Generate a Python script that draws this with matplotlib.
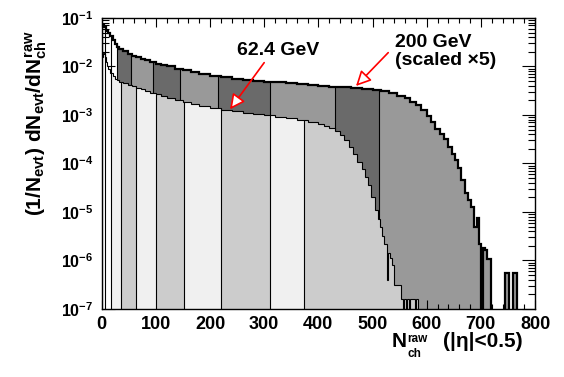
import numpy as np
import matplotlib
matplotlib.use('Agg')
import matplotlib.pyplot as plt
from matplotlib.ticker import MultipleLocator, LogLocator, NullFormatter

plt.rcParams['font.family'] = ['Liberation Sans', 'DejaVu Sans']
plt.rcParams['font.weight'] = 'bold'
plt.rcParams['mathtext.fontset'] = 'custom'
plt.rcParams['mathtext.rm'] = 'Liberation Sans:bold'
plt.rcParams['mathtext.it'] = 'Liberation Sans:bold'
plt.rcParams['mathtext.bf'] = 'Liberation Sans:bold'
plt.rcParams['mathtext.sf'] = 'Liberation Sans:bold'

# 200 GeV (scaled x5): bin edges and log10 of (1/Nevt) dN/dNch, nan = empty bin
edges_200 = [0, 4, 8, 12, 16, 20, 24, 28, 32, 40, 48, 56, 64, 72, 80, 90, 100, 110, 120,
             135, 150, 165, 180, 200, 220, 240, 260, 280, 300, 320, 340, 360, 380, 400,
             420, 440, 460, 480, 500, 515, 530, 545, 560, 570, 580, 590, 600, 608, 616,
             624, 632, 640, 646, 652, 658, 664, 670, 676, 682, 688, 692, 696, 700, 704,
             708, 712, 718, 744, 752, 760, 766, 800]
logy_200 = [-1.15, -1.18, -1.26, -1.31, -1.38, -1.45, -1.53, -1.59, -1.64, -1.69, -1.74,
            -1.78, -1.81, -1.84, -1.87, -1.91, -1.94, -1.97, -2.00, -2.05, -2.08, -2.11,
            -2.15, -2.19, -2.22, -2.25, -2.27, -2.29, -2.31, -2.33, -2.35, -2.36, -2.38,
            -2.40, -2.42, -2.43, -2.45, -2.46, -2.48, -2.50, -2.55, -2.60, -2.66, -2.73,
            -2.80, -2.90, -3.02, -3.15, -3.28, -3.40, -3.50, -3.65, -3.80, -3.92, -4.10,
            -4.35, -4.60, -4.75, -4.90, -5.30, -5.13, -5.65, np.nan, -5.75, -5.78, -5.96,
            np.nan, -6.25, np.nan, -6.25, np.nan]

# 62.4 GeV
edges_62 = [0, 2, 4, 6, 8, 10, 12, 16, 20, 24, 28, 32, 40, 48, 56, 64, 72, 80, 90, 100,
            110, 120, 135, 150, 165, 180, 200, 220, 240, 260, 280, 300, 320, 340, 360,
            380, 400, 410, 420, 430, 440, 448, 456, 464, 472, 480, 486, 492, 498, 504,
            510, 514, 518, 522, 526, 528, 532, 536, 540, 552, 556, 558, 562, 564, 568,
            570, 578, 580, 584, 800]
logy_62 = [-1.80, -1.72, -1.74, -1.80, -1.90, -1.98, -2.05, -2.13, -2.20, -2.25, -2.28,
           -2.31, -2.35, -2.38, -2.41, -2.44, -2.47, -2.50, -2.54, -2.57, -2.61, -2.65,
           -2.70, -2.74, -2.77, -2.81, -2.85, -2.89, -2.92, -2.95, -2.98, -3.01, -3.04,
           -3.07, -3.10, -3.14, -3.18, -3.22, -3.27, -3.33, -3.41, -3.52, -3.65, -3.80,
           -3.97, -4.12, -4.27, -4.45, -4.70, -4.96, -5.15, -5.30, -5.50, -5.65, -6.40,
           -5.85, -5.95, -6.10, -6.51, -6.80, np.nan, -6.80, np.nan, -6.80, np.nan,
           -6.80, np.nan, -6.80, np.nan]

# centrality class boundaries and fill colours
bounds_200 = [0, 6, 17, 28, 55, 95, 145, 215, 310, 430, 512, 800]
colors_200 = ['white', 'white', 'white', '#6a6a6a', '#999999', '#6a6a6a', '#999999',
              '#6a6a6a', '#999999', '#6a6a6a', '#999999']
bounds_62 = [0, 6, 17, 36, 64, 101, 152, 220, 311, 373, 800]
colors_62 = ['white', 'white', '#f0f0f0', '#cccccc', '#f0f0f0', '#cccccc', '#f0f0f0',
             '#cccccc', '#f0f0f0', '#cccccc']

y_ticks = [1e-7, 1e-6, 1e-5, 1e-4, 1e-3, 1e-2, 1e-1]
y_labels = [r'$10^{-7}$', r'$10^{-6}$', r'$10^{-5}$', r'$10^{-4}$', r'$10^{-3}$',
            r'$10^{-2}$', r'$10^{-1}$']
x_ticks = [0, 100, 200, 300, 400, 500, 600, 700, 800]

FLOOR = 1e-12
W, H = 564, 377


def to_vals(logy):
    a = np.array(logy, dtype=float)
    return np.where(np.isnan(a), FLOOR, 10.0 ** np.nan_to_num(a, nan=-12))


def value_at(edges, vals, x):
    k = np.searchsorted(edges, x, side='right') - 1
    k = min(max(k, 0), len(vals) - 1)
    return vals[k]


def draw_hist(ax, edges, vals, bounds, colors, lw, z):
    edges = np.asarray(edges, dtype=float)
    for a, b, c in zip(bounds[:-1], bounds[1:], colors):
        inner = [e for e in edges if a < e < b]
        xs = np.array([a] + inner + [b], dtype=float)
        ys = [value_at(edges, vals, x) for x in xs[:-1]]
        ys.append(ys[-1])
        ax.fill_between(xs, ys, FLOOR, step='post', color=c, lw=0, zorder=z)
    for b in bounds[1:-1]:
        top = max(value_at(edges, vals, b - 1e-6), value_at(edges, vals, b))
        ax.vlines(b, FLOOR, top, colors='k', lw=0.8, zorder=z + 0.1)
    ax.stairs(vals, edges, baseline=FLOOR, color='k', lw=lw, zorder=z + 0.2)


def ftext(px, py, s, **kw):
    # place text in figure pixels measured from the top-left corner
    fig.text(px / W, 1 - py / H, s, **kw)


fig = plt.figure(figsize=(5.64, 3.77), dpi=100)
ax = fig.add_axes([0.1803, 0.1804, 0.7683, 0.7719])
ax.set_yscale('log')

draw_hist(ax, edges_200, to_vals(logy_200), bounds_200, colors_200, 1.6, 1)
draw_hist(ax, edges_62, to_vals(logy_62), bounds_62, colors_62, 0.8, 2)

ax.set_xlim(0, 800)
ax.set_ylim(1e-7, 1e-1)
ax.set_xticks(x_ticks, [str(t) for t in x_ticks])
ax.xaxis.set_minor_locator(MultipleLocator(20))
ax.set_yticks(y_ticks, y_labels)
ax.yaxis.set_minor_locator(LogLocator(base=10, subs=np.arange(2, 10)))
ax.yaxis.set_minor_formatter(NullFormatter())
ax.tick_params(which='both', direction='in', top=True, right=True, width=0.8,
               colors='k')
ax.tick_params(axis='x', which='major', length=6.5, pad=5, labelsize=13)
ax.tick_params(axis='x', which='minor', length=3.6)
ax.tick_params(axis='y', which='major', length=9.4, pad=6, labelsize=11.5)
ax.tick_params(axis='y', which='minor', length=4.7)
for s in ax.spines.values():
    s.set_linewidth(1.0)
    s.set_zorder(5)

# x title built from pieces (ROOT-like sub/superscript placement)
ftext(392, 347, 'N', ha='left', va='baseline', fontsize=15)
ftext(407, 342, 'raw', ha='left', va='baseline', fontsize=8.5)
ftext(407, 357, 'ch', ha='left', va='baseline', fontsize=8.5)
ftext(523, 347, '(|η|<0.5)', ha='right', va='baseline', fontsize=15)

ftext(36, 30, r'$(1/N_{evt})\ dN_{evt}/dN^{raw}_{ch}$',
      rotation=90, ha='center', va='top', fontsize=15)

# annotations
ax.text(250, 10 ** -1.76, '62.4 GeV', ha='left', va='baseline', fontsize=14)
ax.text(541, 10 ** -1.60, '200 GeV', ha='left', va='baseline', fontsize=14)
ax.text(541, 10 ** -1.97, '(scaled ×5)', ha='left', va='baseline', fontsize=14)
arrow = dict(arrowstyle='-|>,head_length=0.9,head_width=0.45', fc='white', ec='red',
             lw=1.2, shrinkA=0, shrinkB=0, mutation_scale=10)
ax.annotate('', xy=(237, 1.31e-3), xytext=(300, 1.2e-2), arrowprops=arrow, zorder=6)
ax.annotate('', xy=(469.5, 3.96e-3), xytext=(529, 1.93e-2), arrowprops=arrow, zorder=6)

fig.savefig('out.png', dpi=100)
